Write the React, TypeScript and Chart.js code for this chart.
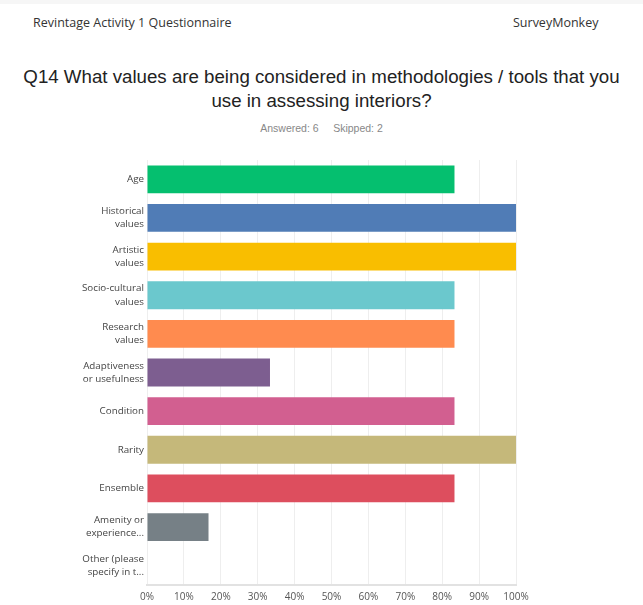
import React, { useEffect, useRef } from "react";
import { Chart, registerables } from "chart.js";

Chart.register(...registerables);

const categories: (string | string[])[] = [
  "Age",
  ["Historical", "values"],
  ["Artistic", "values"],
  ["Socio-cultural", "values"],
  ["Research", "values"],
  ["Adaptiveness", "or usefulness"],
  "Condition",
  "Rarity",
  "Ensemble",
  ["Amenity or", "experience..."],
  ["Other (please", "specify in t..."],
];

const values = [83.33, 100, 100, 83.33, 83.33, 33.33, 83.33, 100, 83.33, 16.67, 0];

const colors = [
  "#05bf6f",
  "#507cb6",
  "#f9be00",
  "#6bc8cd",
  "#ff8b4f",
  "#7d5e90",
  "#d25f90",
  "#c5b87a",
  "#dd4e5e",
  "#768086",
  "#a0a0a0",
];

const xTicks = [0, 10, 20, 30, 40, 50, 60, 70, 80, 90, 100];

export default function App() {
  const ref = useRef<HTMLCanvasElement | null>(null);

  useEffect(() => {
    document.body.style.margin = "0";
    if (!ref.current) return;
    const chart = new Chart(ref.current, {
      type: "bar",
      data: {
        labels: categories,
        datasets: [
          {
            data: values,
            backgroundColor: colors,
            borderColor: colors,
            borderWidth: 0,
            barPercentage: 0.72,
            categoryPercentage: 1,
          },
        ],
      },
      options: {
        indexAxis: "y",
        animation: false,
        responsive: false,
        maintainAspectRatio: false,
        layout: { padding: { top: 10, right: 127, left: 0, bottom: 0 } },
        plugins: { legend: { display: false }, tooltip: { enabled: false } },
        scales: {
          x: {
            min: 0,
            max: 100,
            afterBuildTicks: (axis: any) => {
              axis.ticks = xTicks.map((v) => ({ value: v }));
            },
            afterFit: (axis: any) => {
              axis.height = 20;
            },
            ticks: {
              callback: (v: any) => v + "%",
              color: "#555",
              font: { family: "Open Sans", size: 10 },
              padding: 6,
              maxRotation: 0,
            },
            grid: { color: "#eeeeee", lineWidth: 1, drawTicks: false },
            border: { display: true, color: "#e2e2e2", width: 2 },
          },
          y: {
            afterFit: (axis: any) => {
              axis.width = 147;
              axis.paddingTop = 0;
              axis.paddingBottom = 0;
            },
            ticks: {
              color: "#444",
              font: { family: "Open Sans", size: 9.8, lineHeight: 1.33 },
              padding: 3,
            },
            grid: { display: false, drawTicks: false },
            border: { display: false },
          },
        },
      },
    });
    return () => chart.destroy();
  }, []);

  return (
    <div style={{ position: "absolute", left: 0, top: 0, width: 643, height: 605, background: "#fff", overflow: "hidden" }}>
      <div style={{ position: "absolute", left: 0, top: 0, width: 643, height: 4, background: "#f6f6f6" }} />
      <div style={{ position: "absolute", left: 33, top: 14, fontFamily: "Open Sans", fontSize: 12.5, color: "#333", whiteSpace: "nowrap" }}>
        Revintage Activity 1 Questionnaire
      </div>
      <div style={{ position: "absolute", left: 513, top: 14, fontFamily: "Open Sans", fontSize: 12.5, color: "#333", whiteSpace: "nowrap" }}>
        SurveyMonkey
      </div>
      <div style={{ position: "absolute", left: 0, top: 65, width: 643, textAlign: "center", fontFamily: "Liberation Sans", fontSize: 18.7, lineHeight: "24px", color: "#222" }}>
        Q14 What values are being considered in methodologies / tools that you
        <br />
        use in assessing interiors?
      </div>
      <div style={{ position: "absolute", left: 0, top: 122, width: 643, textAlign: "center", fontFamily: "Liberation Sans", fontSize: 10.5, color: "#888", whiteSpace: "pre" }}>
        {"Answered: 6     Skipped: 2"}
      </div>
      <canvas ref={ref} width={643} height={455} style={{ position: "absolute", left: 0, top: 150, width: 643, height: 455 }} />
    </div>
  );
}
